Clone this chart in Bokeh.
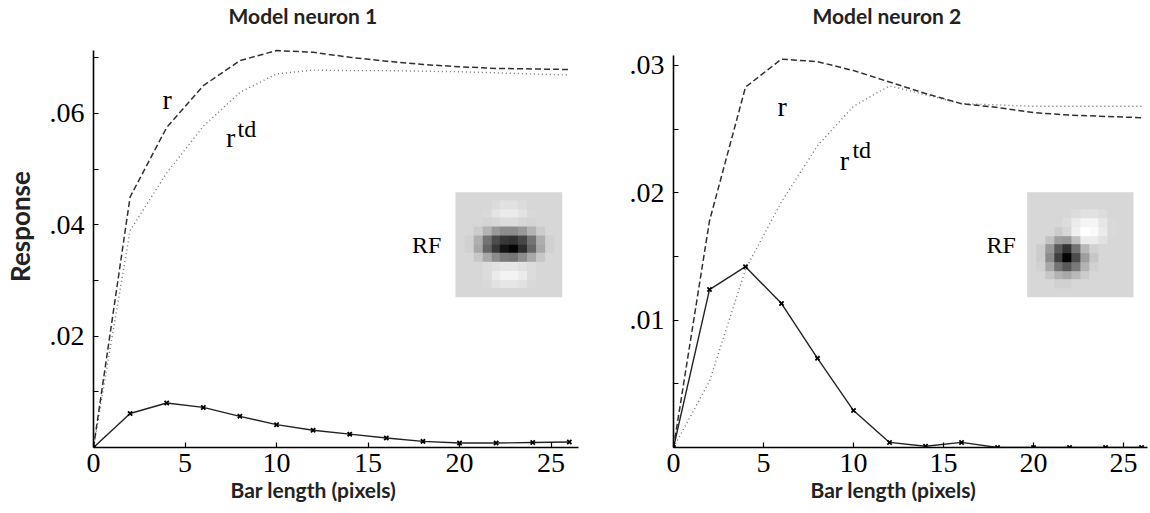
import numpy as np
from bokeh.plotting import figure
from bokeh.layouts import row
from bokeh.models import FixedTicker, LinearColorMapper, Title, Range1d, Label
from bokeh.palettes import Greys256
from bokeh.core.properties import value
from bokeh.embed import file_html
from bokeh.resources import INLINE

# ---------------- data ----------------
bar_length = [0, 2, 4, 6, 8, 10, 12, 14, 16, 18, 20, 22, 24, 26]

n1_r = [0.0, 0.0450, 0.0575, 0.0650, 0.0695, 0.0713, 0.0710, 0.0701, 0.0694,
        0.0688, 0.0684, 0.0681, 0.0680, 0.0679]
n1_rtd = [0.0, 0.0390, 0.0493, 0.0577, 0.0638, 0.0671, 0.0678, 0.0677, 0.0677,
          0.0676, 0.0675, 0.0673, 0.0671, 0.0669]
n1_diff = [0.0, 0.0061, 0.0080, 0.0072, 0.0056, 0.0041, 0.0031, 0.0024, 0.0017,
           0.0011, 0.0008, 0.0008, 0.0009, 0.0010]

n2_r = [0.0, 0.0178, 0.0283, 0.0305, 0.0303, 0.0296, 0.0287, 0.0278, 0.0270,
        0.0267, 0.0263, 0.0261, 0.0260, 0.0259]
n2_rtd = [0.0, 0.0052, 0.0140, 0.0193, 0.0237, 0.0268, 0.0284, 0.0277, 0.0270,
          0.0269, 0.0268, 0.0268, 0.0268, 0.0268]
n2_diff = [0.0, 0.0124, 0.0142, 0.0113, 0.0070, 0.0029, 0.0004, 0.0001, 0.0004,
           0.0000, 0.0000, 0.0000, 0.0000, 0.0000]

titles = ["Model neuron 1", "Model neuron 2"]
x_ticks = [0, 5, 10, 15, 20, 25]
n1_yticks = [0.01, 0.02, 0.03, 0.04, 0.05, 0.06, 0.07]
n1_ylabels = {0.02: ".02", 0.04: ".04", 0.06: ".06"}
n2_yticks = [0.005, 0.01, 0.015, 0.02, 0.025, 0.03]
n2_ylabels = {0.01: ".01", 0.02: ".02", 0.03: ".03"}

# receptive-field images (gray level 0 = black, 1 = white), rows top->bottom
rf1 = [
    [.84, .84, .84, .84, .84, .84, .84, .84, .84, .84, .84, .84],
    [.84, .84, .84, .84, .86, .88, .88, .86, .84, .84, .84, .84],
    [.84, .84, .84, .85, .89, .92, .92, .89, .85, .84, .84, .84],
    [.84, .84, .84, .83, .84, .86, .86, .84, .83, .84, .84, .84],
    [.84, .84, .80, .70, .60, .55, .55, .60, .70, .80, .84, .84],
    [.84, .82, .68, .45, .30, .22, .20, .28, .45, .68, .82, .84],
    [.84, .82, .66, .40, .22, .08, .02, .18, .40, .66, .82, .84],
    [.84, .84, .78, .66, .55, .48, .46, .55, .66, .78, .84, .84],
    [.84, .84, .84, .86, .88, .90, .90, .88, .86, .84, .84, .84],
    [.84, .84, .84, .86, .92, .95, .95, .92, .86, .84, .84, .84],
    [.84, .84, .84, .85, .88, .90, .90, .88, .85, .84, .84, .84],
    [.84, .84, .84, .84, .84, .84, .84, .84, .84, .84, .84, .84],
]
rf2 = [
    [.84, .84, .84, .84, .84, .84, .84, .84, .84, .84, .84, .84],
    [.84, .84, .84, .84, .84, .84, .84, .84, .84, .84, .84, .84],
    [.84, .84, .84, .84, .84, .86, .88, .88, .86, .84, .84, .84],
    [.84, .84, .84, .84, .86, .92, .96, .96, .90, .85, .84, .84],
    [.84, .84, .84, .80, .84, .94, 1.0, .98, .92, .85, .84, .84],
    [.84, .84, .76, .62, .60, .75, .92, .92, .88, .84, .84, .84],
    [.84, .80, .60, .35, .20, .45, .72, .82, .84, .84, .84, .84],
    [.84, .80, .55, .25, .02, .30, .62, .78, .84, .84, .84, .84],
    [.84, .82, .66, .45, .35, .48, .70, .82, .84, .84, .84, .84],
    [.84, .84, .78, .70, .66, .72, .80, .84, .84, .84, .84, .84],
    [.84, .84, .84, .82, .82, .84, .84, .84, .84, .84, .84, .84],
    [.84, .84, .84, .84, .84, .84, .84, .84, .84, .84, .84, .84],
]

SERIF = "Liberation Serif"
SANS = "Lato"


def make_panel(title, r, rtd, diff, x_end, y_end, axis_top, yticks, ylabels,
               rf, rf_box, r_pos, rtd_pos, rf_label_pos, title_pos, width,
               border_left, border_right, xlabel_offset, ylabel=None):
    p = figure(width=width, height=513, output_backend="svg",
               toolbar_location=None, x_range=Range1d(0, x_end),
               y_range=Range1d(0, y_end), min_border_left=border_left,
               min_border_right=border_right, min_border_top=5,
               min_border_bottom=66)
    p.title.visible = False
    t = Label(text=title, x=title_pos[0], y=title_pos[1],
              text_align="left", text_baseline="middle",
              text_font=SANS, text_font_size="21px", text_font_style="bold",
              text_color="#222222")
    p.add_layout(t)
    xl = Title(text="Bar length (pixels)", align="left", offset=xlabel_offset,
               text_font=SANS, text_font_size="21px", text_font_style="bold",
               text_color="#222222", standoff=0)
    p.add_layout(xl, "below")
    p.outline_line_color = None
    p.xgrid.visible = False
    p.ygrid.visible = False
    p.background_fill_color = "white"
    p.border_fill_color = "white"

    # axes
    for ax in (p.xaxis, p.yaxis):
        ax.axis_line_width = 1.6
        ax.axis_line_color = "black"
        ax.major_tick_in = 5
        ax.major_tick_out = 0
        ax.major_tick_line_color = "black"
        ax.major_tick_line_width = 1.2
        ax.minor_tick_line_color = None
        ax.major_label_text_font = SERIF
        ax.major_label_text_font_size = "28px"
        ax.major_label_text_color = "black"
    p.xaxis.ticker = FixedTicker(ticks=x_ticks)
    p.xaxis.major_label_standoff = 6
    p.yaxis.ticker = FixedTicker(ticks=yticks)
    p.yaxis.bounds = (0, axis_top)
    p.yaxis.major_label_overrides = {t_: ylabels.get(t_, "") for t_ in yticks}
    p.yaxis.major_label_standoff = 9
    if ylabel:
        p.yaxis.axis_label = ylabel
        p.yaxis.axis_label_text_font = SANS
        p.yaxis.axis_label_text_font_size = "26px"
        p.yaxis.axis_label_text_font_style = "bold"
        p.yaxis.axis_label_text_color = "#222222"
        p.yaxis.axis_label_standoff = 11

    # RF image
    mapper = LinearColorMapper(palette=Greys256, low=0, high=1)
    x0, y0, dw, dh = rf_box
    p.image(image=[np.flipud(np.array(rf))], x=x0, y=y0, dw=dw, dh=dh,
            color_mapper=mapper)
    p.text(x=[rf_label_pos[0]], y=[rf_label_pos[1]], text=["RF"],
           text_font=value(SERIF), text_font_size="24px",
           text_align="center", text_baseline="middle", text_color="black")

    # curves
    p.line(bar_length, rtd, line_color="#707070", line_width=1.4,
           line_dash="1 3")
    p.line(bar_length, r, line_color="#303030", line_width=1.5,
           line_dash="6 3")
    p.line(bar_length, diff, line_color="#222222", line_width=1.4)
    p.scatter(bar_length, diff, marker="x", size=6, line_width=1.8,
              line_color="black")

    # curve labels
    p.text(x=[r_pos[0]], y=[r_pos[1]], text=["r"], text_font=value(SERIF),
           text_font_size="28px", text_align="center", text_baseline="middle",
           text_color="black")
    p.text(x=[rtd_pos[0]], y=[rtd_pos[1]], text=["r"], text_font=value(SERIF),
           text_font_size="28px", text_align="center", text_baseline="middle",
           text_color="black")
    p.text(x=[rtd_pos[2]], y=[rtd_pos[3]], text=["td"], text_font=value(SERIF),
           text_font_size="24px", text_align="left", text_baseline="middle",
           text_color="black")
    return p


p1 = make_panel(titles[0], n1_r, n1_rtd, n1_diff, 26.5, 0.0794, 0.0713,
                n1_yticks, n1_ylabels, rf1, (19.78, 0.0270, 5.83, 0.01886),
                (4.03, 0.0625), (7.5, 0.0557, 7.87, 0.0572), (18.2, 0.0363),
                (7.38, 0.0776),
                width=583, border_left=93, border_right=5,
                xlabel_offset=137, ylabel="Response")
p2 = make_panel(titles[1], n2_r, n2_rtd, n2_diff, 26.33, 0.03471, 0.0308,
                n2_yticks, n2_ylabels, rf2, (19.65, 0.0118, 5.9, 0.00825),
                (6.04, 0.0268), (9.5, 0.0225, 9.94, 0.0234), (18.2, 0.0159),
                (7.72, 0.03393),
                width=567, border_left=90, border_right=3,
                xlabel_offset=137)

layout = row(p1, p2)
open("out.html", "w").write(file_html(layout, INLINE))
